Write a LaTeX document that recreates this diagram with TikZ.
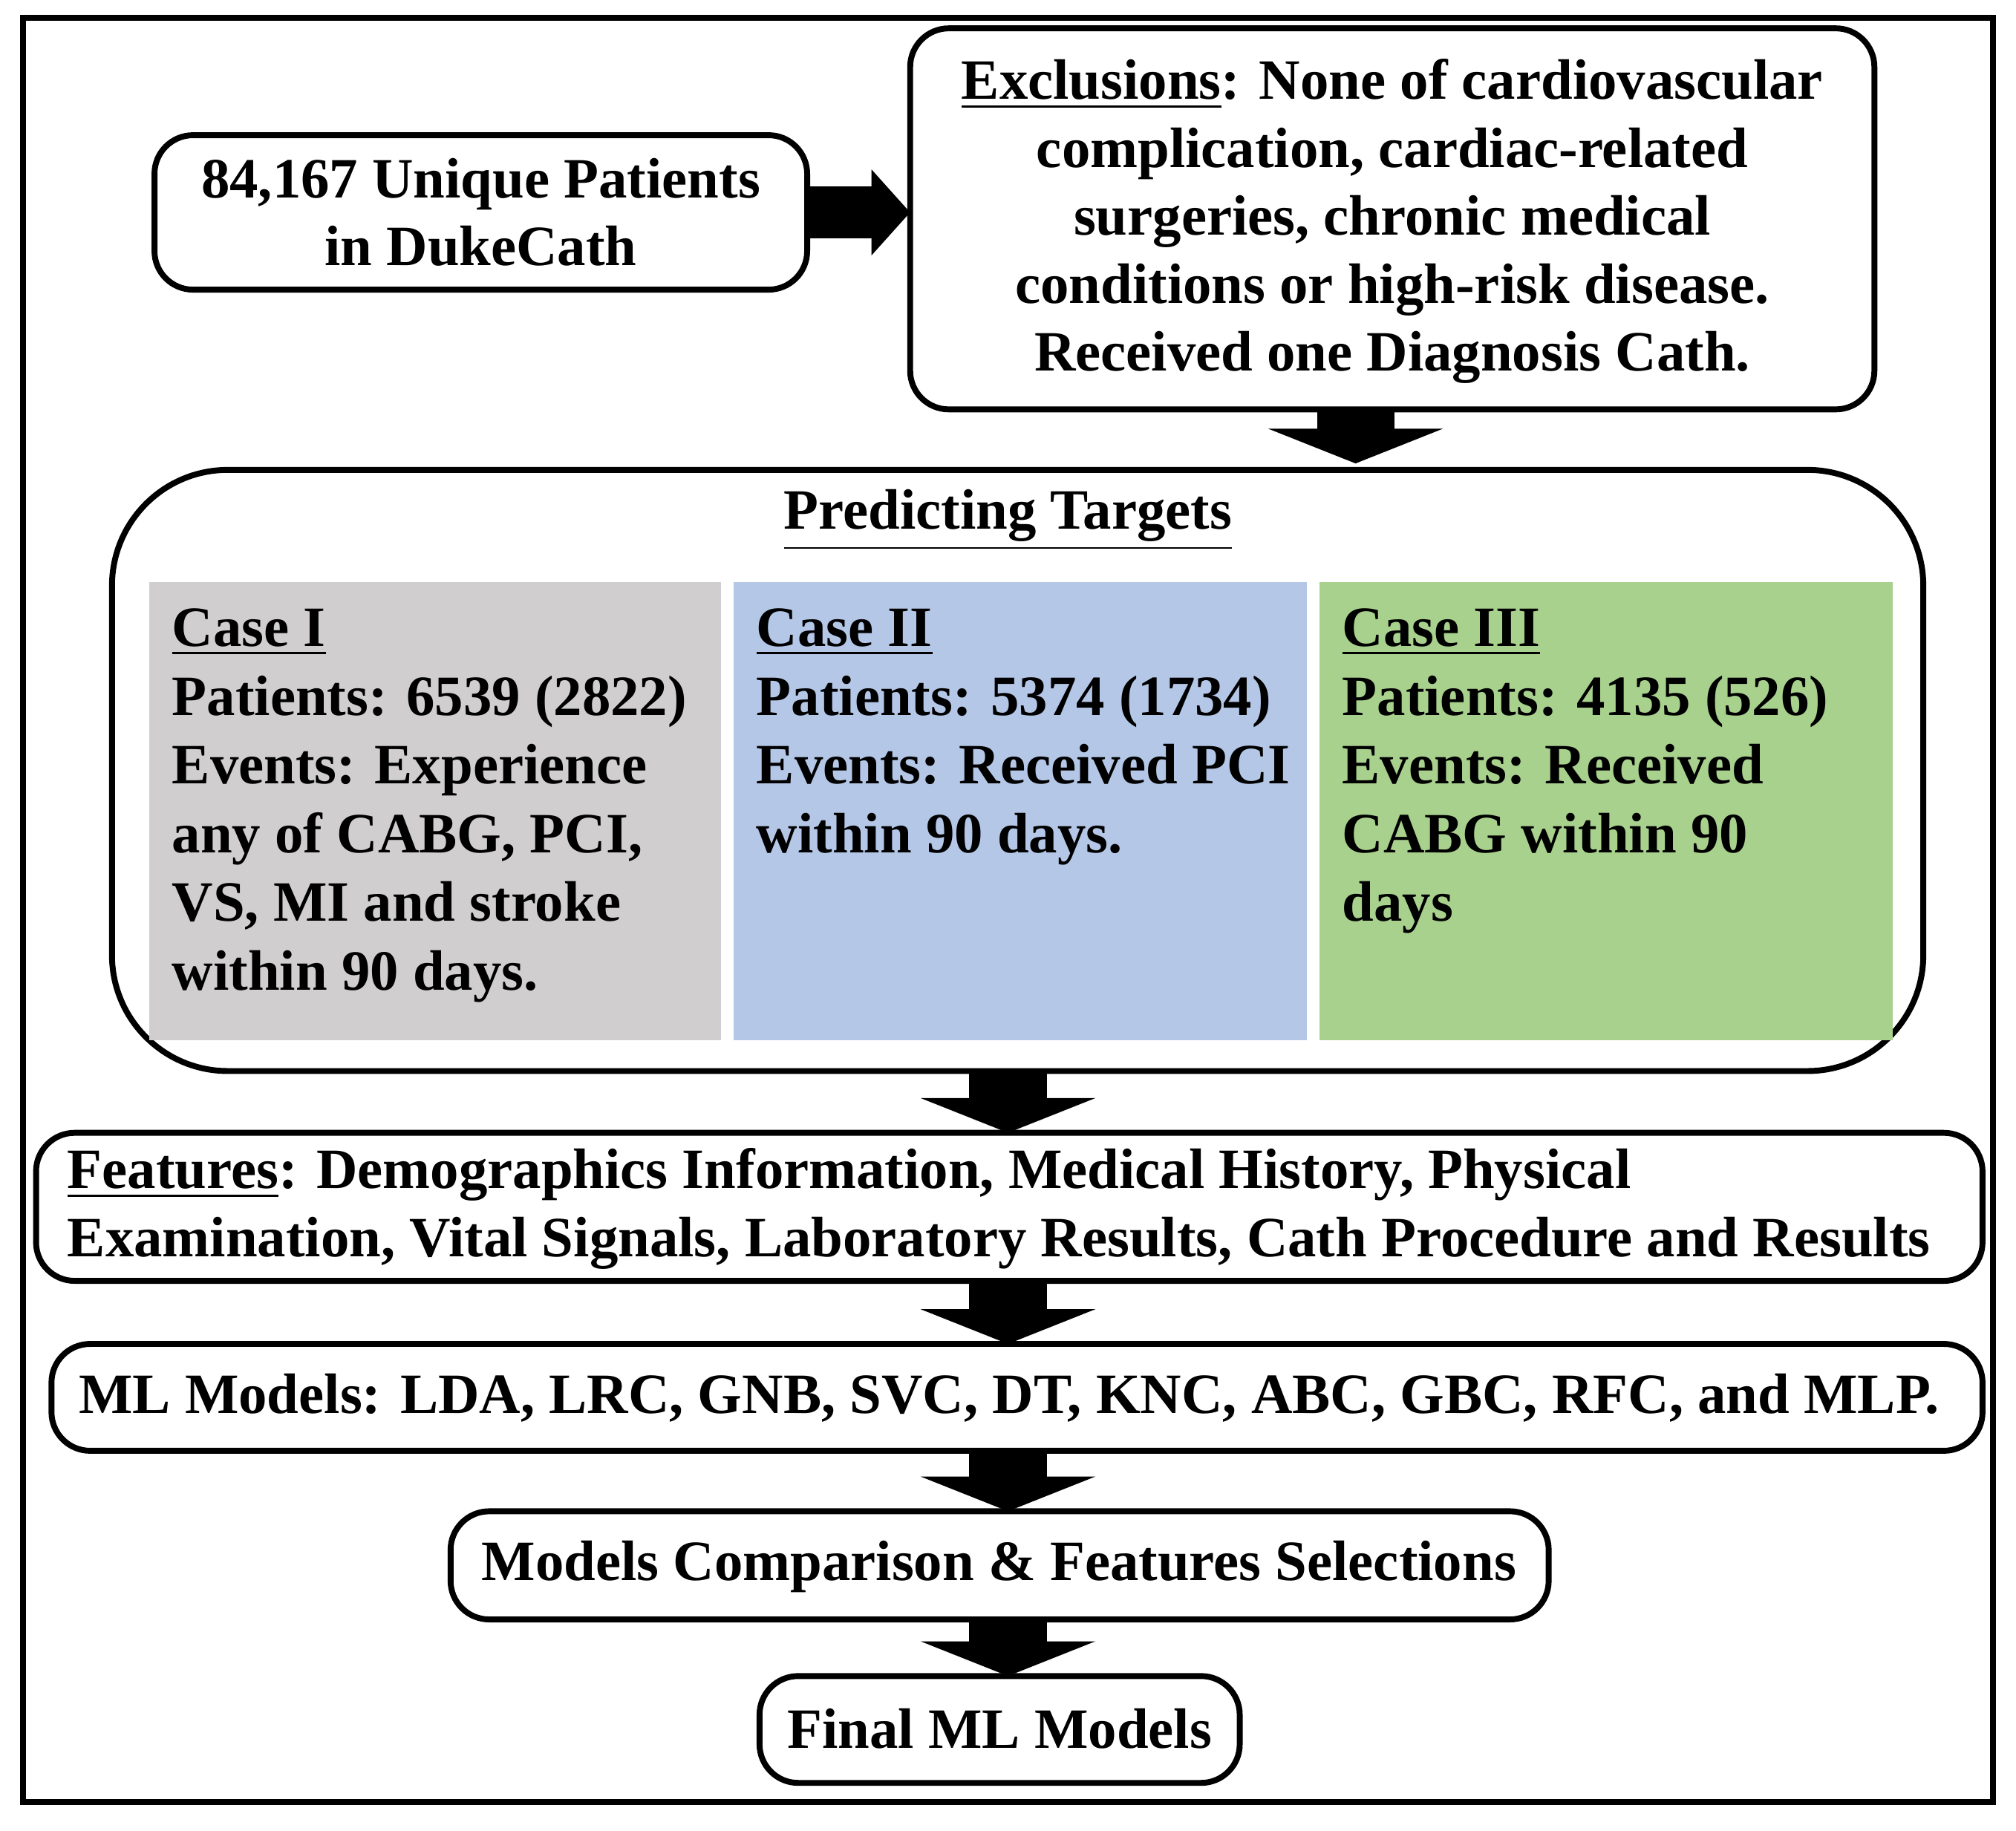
\documentclass[tikz,border=0pt]{standalone}
\usepackage{fontspec}
\setmainfont{Liberation Serif}
\usetikzlibrary{arrows.meta}
\definecolor{caseone}{HTML}{D0CECE}
\definecolor{casetwo}{HTML}{B4C7E7}
\definecolor{casethree}{HTML}{A9D18E}
\tikzset{
  box/.style={draw, line width=1.3pt, rounded corners=0.3cm},
  casebox/.style={inner sep=0pt},
  txt/.style={font=\bfseries\fontsize{12.6}{15}\selectfont, align=center, inner sep=0pt},
  casetxt/.style={font=\bfseries\fontsize{12.6}{15.2}\selectfont, align=left, anchor=north west, inner sep=0pt},
  blockdown/.style={line width=0.6cm, -{Triangle[width=1.35cm,length=0.27cm]}},
  blockright/.style={line width=0.4cm, -{Triangle[width=0.65cm,length=0.3cm]}}
}
\begin{document}
\begin{tikzpicture}[yscale=-1]
    \useasboundingbox (0,0) rectangle (15.66,14.22);
    \draw[line width=1.3pt] (0.18,0.14) rectangle (15.48,14.0);
    % top row
    \draw[box] (1.2,1.05) rectangle (6.27,2.25);
    \node[txt] (patients) at (3.735,1.65) {84,167 Unique Patients\\in DukeCath};
    \coordinate (patE) at (6.27,1.65);
    \draw[box] (7.07,0.22) rectangle (14.56,3.18);
    \node[txt] (excl) at (10.815,1.72) {\underline{Exclusions}: None of cardiovascular\\complication, cardiac-related\\surgeries, chronic medical\\conditions or high-risk disease.\\Received one Diagnosis Cath.};
    \coordinate (exclW) at (7.07,1.65);
    \coordinate (exclS) at (10.53,3.18);
    % predicting targets
    \draw[box, rounded corners=0.9cm] (0.87,3.65) rectangle (14.94,8.32);
    \coordinate (predN) at (10.53,3.6);
    \coordinate (predS) at (7.83,8.32);
    \node[txt] (predtitle) at (7.83,4.04) {\underline{Predicting Targets}};
    \fill[caseone] (1.16,4.52) rectangle (5.6,8.08);
    \fill[casetwo] (5.7,4.52) rectangle (10.15,8.08);
    \fill[casethree] (10.25,4.52) rectangle (14.7,8.08);
    \node[casetxt] (caseI) at (1.33,4.72) {\underline{Case I}\\Patients: 6539 (2822)\\Events: Experience\\any of CABG, PCI,\\VS, MI and stroke\\within 90 days.};
    \node[casetxt] (caseII) at (5.87,4.72) {\underline{Case II}\\Patients: 5374 (1734)\\Events: Received PCI\\within 90 days.};
    \node[casetxt] (caseIII) at (10.42,4.72) {\underline{Case III}\\Patients: 4135 (526)\\Events: Received\\CABG within 90\\days};
    % features
    \draw[box] (0.28,8.8) rectangle (15.4,9.95);
    \node[txt, align=left] (features) at (7.76,9.39) {\underline{Features}: Demographics Information, Medical History, Physical\\Examination, Vital Signals, Laboratory Results, Cath Procedure and Results};
    \coordinate (featN) at (7.83,8.8);
    \coordinate (featS) at (7.83,9.95);
    % models
    \draw[box] (0.4,10.44) rectangle (15.4,11.27);
    \node[txt] (models) at (7.84,10.86) {ML Models: LDA, LRC, GNB, SVC, DT, KNC, ABC, GBC, RFC, and MLP.};
    \coordinate (modN) at (7.83,10.44);
    \coordinate (modS) at (7.83,11.27);
    \draw[box] (3.5,11.74) rectangle (12.03,12.58);
    \node[txt] (compare) at (7.76,12.17) {Models Comparison \& Features Selections};
    \coordinate (cmpN) at (7.83,11.74);
    \coordinate (cmpS) at (7.83,12.58);
    \draw[box] (5.9,13.02) rectangle (9.63,13.85);
    \node[txt] (final) at (7.765,13.43) {Final ML Models};
    \coordinate (finN) at (7.83,13.02);
    % arrows
    \draw[blockright] (patE) -- (exclW);
    \draw[blockdown] (exclS) -- (predN);
    \draw[blockdown] (predS) -- (featN);
    \draw[blockdown] (featS) -- (modN);
    \draw[blockdown] (modS) -- (cmpN);
    \draw[blockdown] (cmpS) -- (finN);
\end{tikzpicture}
\end{document}
